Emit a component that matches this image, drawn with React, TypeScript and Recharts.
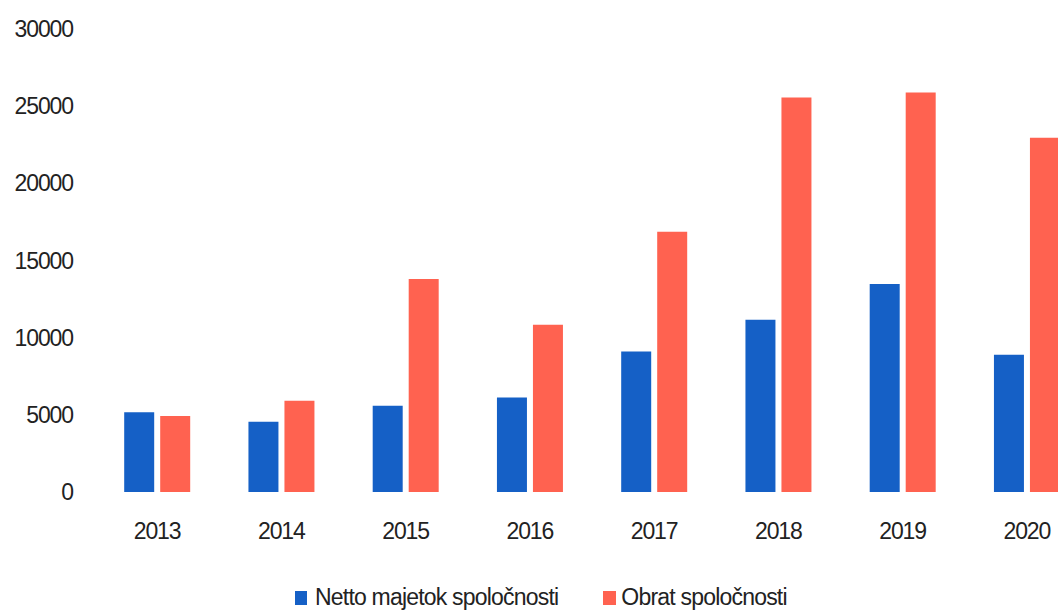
import React from 'react';
import { BarChart, Bar, XAxis, YAxis, Legend } from 'recharts';

const years = ['2013', '2014', '2015', '2016', '2017', '2018', '2019', '2020'];
const nettoMajetok = [5160, 4550, 5590, 6130, 9110, 11160, 13470, 8890];
const obrat = [4920, 5910, 13800, 10840, 16860, 25560, 25890, 22950];
const yTicks = [0, 5000, 10000, 15000, 20000, 25000, 30000];

const BLUE = '#1560C6';
const RED = '#FF6250';
const FONT = '"Liberation Sans Narrow", "Liberation Sans", Arial, sans-serif';

const data = years.map((y, i) => ({ year: y, netto: nettoMajetok[i], obrat: obrat[i] }));

const LegendContent = () => (
  <div style={{ display: 'flex', alignItems: 'center', fontFamily: FONT, fontSize: 23, color: '#222', letterSpacing: '-0.8px', whiteSpace: 'nowrap' }}>
    <span style={{ display: 'inline-block', width: 12, height: 14, background: BLUE, marginRight: 8 }} />
    <span>Netto majetok spoločnosti</span>
    <span style={{ display: 'inline-block', width: 13, height: 14, background: RED, marginLeft: 45, marginRight: 5 }} />
    <span>Obrat spoločnosti</span>
  </div>
);

const tickStyle = { fontFamily: FONT, fontSize: 23, fill: '#222', letterSpacing: '-1.1px' };

export default function App() {
  return (
    <div style={{ position: 'fixed', left: 0, top: 0, width: 1058, height: 611, overflow: 'hidden', background: '#fff' }}>
      <BarChart
        width={1089}
        height={611}
        data={data}
        margin={{ top: 29, right: 0, bottom: 0, left: 0 }}
        barCategoryGap="23.5%"
        barGap={6}
      >
        <YAxis
          width={95}
          domain={[0, 30000]}
          ticks={yTicks}
          axisLine={false}
          tickLine={false}
          tickSize={0}
          tickMargin={22}
          tick={tickStyle}
          interval={0}
        />
        <XAxis
          dataKey="year"
          height={119}
          axisLine={false}
          tickLine={false}
          tickSize={0}
          tickMargin={31}
          tick={tickStyle}
          interval={0}
        />
        <Legend
          layout="horizontal"
          verticalAlign="middle"
          align="center"
          content={<LegendContent />}
          wrapperStyle={{ position: 'absolute', top: 584, left: 295, width: 600 }}
        />
        <Bar dataKey="netto" name="Netto majetok spoločnosti" fill={BLUE} isAnimationActive={false} />
        <Bar dataKey="obrat" name="Obrat spoločnosti" fill={RED} isAnimationActive={false} />
      </BarChart>
    </div>
  );
}
